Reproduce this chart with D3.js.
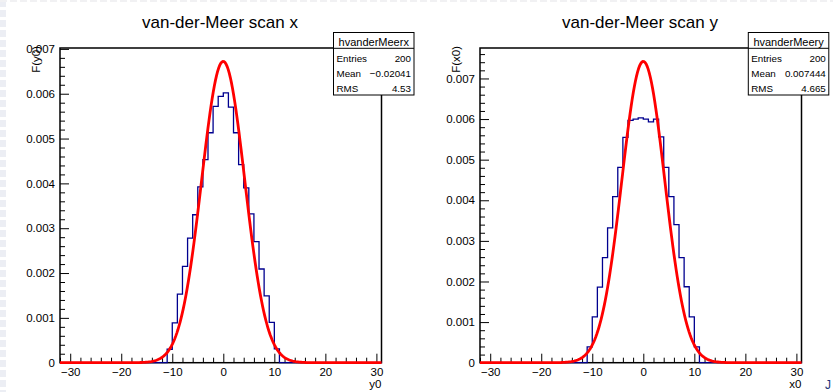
<!DOCTYPE html>
<html>
<head>
<meta charset="utf-8">
<script src="https://cdn.jsdelivr.net/npm/d3@7"></script>
<style>
  body { margin: 0; background: #fff; }
  svg { display: block; font-family: "Liberation Sans", Arial, sans-serif; }
</style>
</head>
<body>
<div id="chart"></div>
<script>
// histogram bins: unit width, low edge given
const binLow = [-11, -10, -9, -8, -7, -6, -5, -4, -3, -2, -1, 0, 1, 2, 3, 4, 5, 6, 7, 8, 9, 10];
// bin contents (x 1e-3)
const scanX = [0.30, 0.89, 1.53, 2.15, 2.78, 3.30, 3.92, 4.53, 5.13, 5.72, 5.94,
               6.02, 5.70, 5.13, 4.42, 3.90, 3.32, 2.70, 2.09, 1.49, 0.90, 0.31];
const scanY = [0.39, 1.13, 1.86, 2.59, 3.32, 4.09, 4.81, 5.55, 5.97, 6.00, 6.03,
               6.00, 5.93, 6.00, 5.56, 4.81, 4.09, 3.40, 2.59, 1.87, 1.13, 0.39];
// gaussian fit: constant, mean, sigma
const fitX = [6.72e-3, -0.02, 4.22];
const fitY = [7.42e-3, 0.0, 4.20];

const xMajor = [-30, -20, -10, 0, 10, 20, 30];
const yMajor = [0, 0.001, 0.002, 0.003, 0.004, 0.005, 0.006, 0.007];
const statsLabels = ['Entries', 'Mean', 'RMS'];
const statsX = ['200', '\u22120.02041', '4.53'];
const statsY = ['200', '0.007444', '4.665'];

const W = 833, H = 392;
const svg = d3.select('#chart').append('svg')
  .attr('width', W)
  .attr('height', H);

svg.append('rect').attr('width', W).attr('height', H).attr('fill', '#fff');

// faint scan border on the left / top of the capture
svg.append('line')
  .attr('x1', 3).attr('x2', 3).attr('y1', 0).attr('y2', H)
  .attr('stroke', '#eceef4').attr('stroke-width', 6).attr('stroke-dasharray', '7,3');
svg.append('line')
  .attr('x1', 0).attr('x2', W).attr('y1', 1).attr('y2', 1)
  .attr('stroke', '#f1f1f3').attr('stroke-width', 2).attr('stroke-dasharray', '7,3');

function drawPanel(ox, title, hname, values, fit, stats, yMax, xTitle, yTitle, bx) {
  const g = svg.append('g').attr('transform', `translate(${ox},0)`);
  const left = 60, right = 381.5, top = 48, bottom = 362.7;

  const x = d3.scaleLinear().domain([-32, 31]).range([left, right]);
  const y = d3.scaleLinear().domain([0, yMax]).range([bottom, top]);

  // minor ticks
  const xMinor = d3.range(-32, 31.01, 2).filter(d => d % 10 !== 0);
  g.append('g')
    .attr('transform', `translate(0,${bottom})`)
    .call(d3.axisBottom(x).tickValues(xMinor).tickSize(-5).tickFormat(''))
    .call(a => a.select('.domain').remove());
  const yMinor = d3.range(0, yMax, 0.0002).filter(d => Math.abs(d / 0.001 - Math.round(d / 0.001)) > 1e-6);
  g.append('g')
    .attr('transform', `translate(${left},0)`)
    .call(d3.axisLeft(y).tickValues(yMinor).tickSize(-5).tickFormat(''))
    .call(a => a.select('.domain').remove());

  // major ticks + labels
  const xa = g.append('g')
    .attr('transform', `translate(0,${bottom})`)
    .call(d3.axisBottom(x).tickValues(xMajor).tickSize(-9).tickPadding(5));
  xa.select('.domain').remove();
  xa.selectAll('text').attr('fill', '#000').style('font-size', '11.5px');

  const ya = g.append('g')
    .attr('transform', `translate(${left},0)`)
    .call(d3.axisLeft(y).tickValues(yMajor.filter(d => d <= yMax)).tickSize(-9).tickPadding(5)
      .tickFormat(d => d === 0 ? '0' : d3.format('.3f')(d)));
  ya.select('.domain').remove();
  ya.selectAll('text').attr('fill', '#000').style('font-size', '11.5px');

  g.selectAll('.tick line').attr('stroke', '#000').attr('stroke-width', 1);
  g.selectAll('.domain, .tick').attr('font-family', null);

  // frame
  g.append('rect')
    .attr('x', left).attr('y', top)
    .attr('width', right - left).attr('height', bottom - top)
    .attr('fill', 'none').attr('stroke', '#000').attr('stroke-width', 1.5);

  // histogram outline
  const pts = [[-32, 0]];
  binLow.forEach((b, i) => pts.push([b, values[i] * 1e-3]));
  pts.push([binLow[binLow.length - 1] + 1, 0]);
  pts.push([31, 0]);
  const step = d3.line()
    .x(d => x(d[0]))
    .y(d => y(d[1]))
    .curve(d3.curveStepAfter);
  g.append('path')
    .attr('d', step(pts))
    .attr('fill', 'none')
    .attr('stroke', '#00008f')
    .attr('stroke-width', 1.3);

  // fit function
  const [c, mu, sig] = fit;
  const fx = d3.range(0, 301).map(i => -32 + i * 63 / 300);
  const gaus = d3.line()
    .x(d => x(d))
    .y(d => y(c * Math.exp(-0.5 * ((d - mu) / sig) ** 2)))
    .curve(d3.curveLinear);
  g.append('path')
    .attr('d', gaus(fx))
    .attr('fill', 'none')
    .attr('stroke', '#ff0000')
    .attr('stroke-width', 2.8);

  // titles
  g.append('text')
    .attr('x', 220).attr('y', 28)
    .attr('text-anchor', 'middle')
    .style('font-size', '17px')
    .text(title);

  g.append('text')
    .attr('x', right).attr('y', 388)
    .attr('text-anchor', 'end')
    .style('font-size', '11.5px')
    .text(xTitle);

  g.append('text')
    .attr('transform', `translate(40,${top - 2}) rotate(-90)`)
    .attr('text-anchor', 'end')
    .style('font-size', '11.5px')
    .text(yTitle);

  // stats box
  const by = 32.5, bw = 80.5, bh = 62.5;
  const sb = g.append('g');
  sb.append('rect')
    .attr('x', bx).attr('y', by).attr('width', bw).attr('height', bh)
    .attr('fill', '#fff').attr('stroke', '#000').attr('stroke-width', 1);
  sb.append('line')
    .attr('x1', bx).attr('x2', bx + bw).attr('y1', 48.3).attr('y2', 48.3)
    .attr('stroke', '#000').attr('stroke-width', 1);
  sb.append('text')
    .attr('x', bx + bw / 2).attr('y', 45.5)
    .attr('text-anchor', 'middle')
    .style('font-size', '11px')
    .text(hname);
  const rowY = [61.5, 76.5, 91.5];
  statsLabels.forEach((lab, i) => {
    sb.append('text')
      .attr('x', bx + 3).attr('y', rowY[i])
      .style('font-size', '9.8px')
      .text(lab);
    sb.append('text')
      .attr('x', bx + bw - 3).attr('y', rowY[i])
      .attr('text-anchor', 'end')
      .style('font-size', '9.8px')
      .text(stats[i]);
  });
}

drawPanel(0, 'van-der-Meer scan x', 'hvanderMeerx', scanX, fitX, statsX, 0.00702, 'y0', 'F(y0)', 333.5);
drawPanel(420, 'van-der-Meer scan y', 'hvanderMeery', scanY, fitY, statsY, 0.00775, 'x0', 'F(x0)', 328.3);

// fragment of the neighbouring pad at the corner
svg.append('text')
  .attr('x', 825).attr('y', 389)
  .style('font-size', '12px')
  .attr('fill', '#24367a')
  .text('J');
</script>
</body>
</html>
